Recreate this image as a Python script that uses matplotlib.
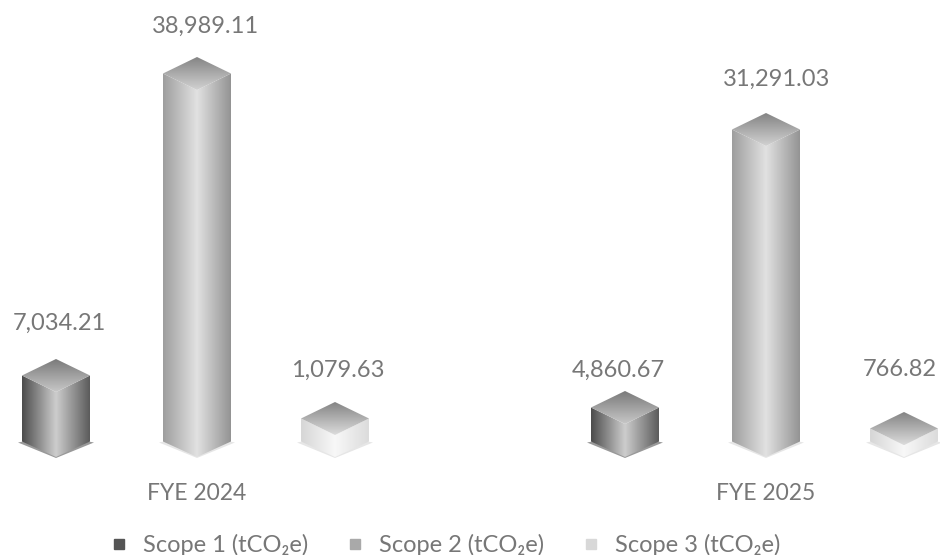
import numpy as np
import matplotlib
matplotlib.use("Agg")
import matplotlib.pyplot as plt
from matplotlib.patches import Polygon
from matplotlib.lines import Line2D

# ---- data ----
years = ["FYE 2024", "FYE 2025"]
series = ["Scope 1 (tCO₂e)", "Scope 2 (tCO₂e)", "Scope 3 (tCO₂e)"]
scope1 = [7034.21, 4860.67]
scope2 = [38989.11, 31291.03]
scope3 = [1079.63, 766.82]
# The picture's columns are not proportional to their labels, so the drawn
# column heights are read from the picture separately.
scope1_drawn = [65, 33]
scope2_drawn = [367, 311]
scope3_drawn = [22, 12]

# ---- layout (figure pixels) ----
W, H = 940, 555
AX_BOTTOM_PX = 470
BASE_PX = 457
HALF_W, HALF_D = 34, 16.5
GROUP_X = [197, 766]
OFFSETS = [-141, 0, 138]
LABEL_X = {(0, 0): 59, (0, 1): 205, (0, 2): 338, (1, 0): 618, (1, 1): 777, (1, 2): 900}
LABEL_Y = {(0, 0): 323, (0, 1): 26, (0, 2): 370, (1, 0): 370, (1, 1): 79, (1, 2): 370}
SHADES = [
    dict(edge=0.30, mid=0.80, edge2=0.36, top1=0.48, top2=0.78),
    dict(edge=0.62, mid=0.88, edge2=0.58, top1=0.52, top2=0.82),
    dict(edge=0.84, mid=0.97, edge2=0.86, top1=0.52, top2=0.86),
]
TEXT = "#777777"

plt.rcParams["font.family"] = ["Lato", "DejaVu Sans"]
fig = plt.figure(figsize=(W / 100, H / 100), dpi=100, facecolor="white")
ax = fig.add_axes([0, (H - AX_BOTTOM_PX) / H, 1, AX_BOTTOM_PX / H])


def py(px):
    """Figure pixel row to drawn-height axis coordinate."""
    return BASE_PX - px


def face(xa, xb, ybot_a, ybot_b, ytop_a, ytop_b, c0, c1):
    poly = Polygon([(xa, ybot_a), (xb, ybot_b), (xb, ytop_b), (xa, ytop_a)],
                   transform=ax.transData, fc="none", ec="none")
    ax.add_patch(poly)
    grad = np.linspace(c0, c1, 64).reshape(1, -1)
    y0, y1 = min(ybot_a, ybot_b), max(ytop_a, ytop_b)
    im = ax.imshow(grad, extent=(xa, xb, y0, y1), aspect="auto", cmap="gray",
                   vmin=0, vmax=1, interpolation="bilinear", zorder=3)
    im.set_clip_path(poly)


def column(cx, height, s):
    front_bot = 0
    side_bot = HALF_D - 1
    front_top = height
    side_top = front_top + HALF_D
    apex = front_top + 2 * HALF_D
    ax.add_patch(Polygon([(cx - HALF_W - 4, side_bot - 1), (cx, front_bot - 1),
                          (cx + HALF_W + 4, side_bot - 1), (cx, side_bot + 6)],
                         fc=str(min(s["edge"] + 0.3, 0.9)), ec="none", zorder=2))
    face(cx - HALF_W, cx, side_bot, front_bot, side_top, front_top, s["edge"], s["mid"])
    face(cx, cx + HALF_W, front_bot, side_bot, front_top, side_top, s["mid"], s["edge2"])
    poly = Polygon([(cx - HALF_W, side_top), (cx, apex), (cx + HALF_W, side_top), (cx, front_top)],
                   fc="none", ec="none")
    ax.add_patch(poly)
    grad = np.linspace(s["top1"], s["top2"], 64).reshape(-1, 1)
    im = ax.imshow(grad, extent=(cx - HALF_W, cx + HALF_W, front_top, apex), aspect="auto",
                   cmap="gray", vmin=0, vmax=1, origin="upper",
                   interpolation="bilinear", zorder=4)
    im.set_clip_path(poly)


for g, gx in enumerate(GROUP_X):
    for i, (vals, drawn) in enumerate([(scope1, scope1_drawn), (scope2, scope2_drawn), (scope3, scope3_drawn)]):
        column(gx + OFFSETS[i], drawn[g], SHADES[i])
        ax.text(LABEL_X[(g, i)], py(LABEL_Y[(g, i)]), f"{vals[g]:,.2f}", ha="center", va="center",
                fontsize=17, color=TEXT, zorder=6)

ax.set_xlim(0, W)
ax.set_ylim(py(AX_BOTTOM_PX), py(0))
ax.set_xticks(GROUP_X, years)
ax.tick_params(axis="x", length=0, pad=9, labelsize=16.5, labelcolor=TEXT)
ax.set_yticks([])
for sp in ax.spines.values():
    sp.set_visible(False)
ax.patch.set_alpha(0)

handles = [Line2D([], [], ls="none", marker="s", ms=7, color=c) for c in ["#555555", "#a9a9a9", "#d8d8d8"]]
fig.legend(handles, series, loc="center", bbox_to_anchor=(445 / W, 1 - 545 / H), ncol=3, frameon=False,
           fontsize=17, labelcolor=TEXT, columnspacing=1.6, handletextpad=0.6, handlelength=0.8)

fig.savefig("out.png", dpi=100, facecolor="white")
